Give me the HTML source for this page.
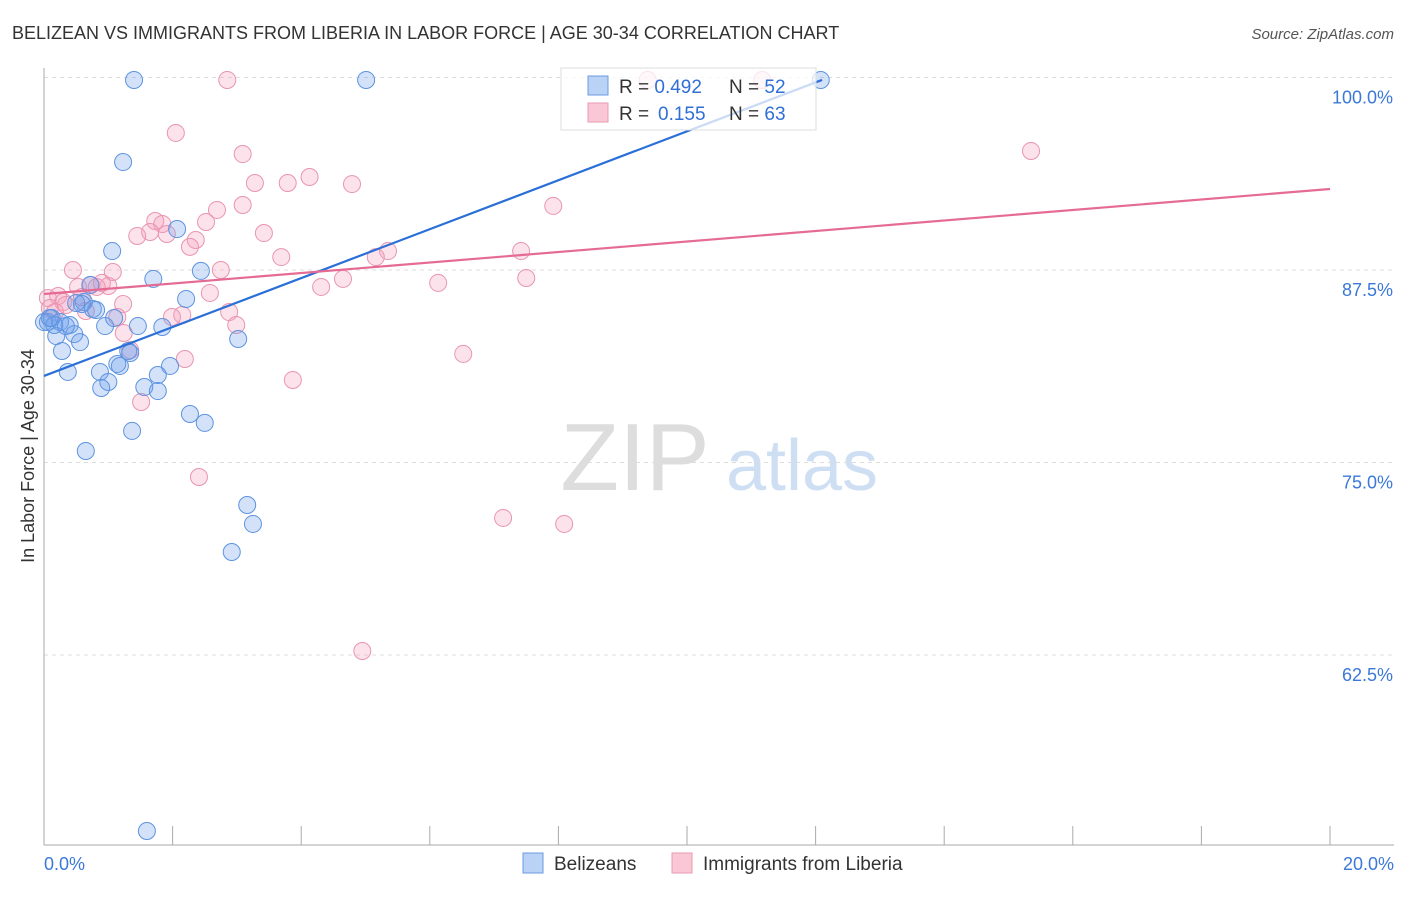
<!DOCTYPE html>
<html><head><meta charset="utf-8"><style>
body{margin:0;background:#fff;font-family:"Liberation Sans",sans-serif;}
svg text{font-family:"Liberation Sans",sans-serif;}
</style></head><body>
<svg id="chart" width="1406" height="892">
<text x="12" y="39" font-size="18" fill="#333">BELIZEAN VS IMMIGRANTS FROM LIBERIA IN LABOR FORCE | AGE 30-34 CORRELATION CHART</text>
<text x="1394" y="39" font-size="15" fill="#555" font-style="italic" text-anchor="end">Source: ZipAtlas.com</text>
<text x="635" y="490" font-size="96" fill="#ddd" text-anchor="middle" font-family="Liberation Serif,serif">ZIP</text>
<text x="802" y="490" font-size="72" fill="#cfdff3" text-anchor="middle">atlas</text>
<text transform="translate(34,456) rotate(-90)" font-size="18" fill="#333" text-anchor="middle">In Labor Force | Age 30-34</text>
<g id="grid"></g><g id="marks"></g>
<g>
<rect x="561" y="68" width="255" height="62" fill="#fff" fill-opacity="0.75" stroke="#ddd"/>
<rect x="588" y="76" width="20" height="19" fill="#b9d2f5" stroke="#6a9be0"/>
<rect x="588" y="103" width="20" height="19" fill="#f9c7d6" stroke="#e99ab2"/>
<text x="619" y="93" font-size="19" fill="#333">R = <tspan fill="#2f6fd6">0.492</tspan><tspan x="729">N = </tspan><tspan fill="#2f6fd6">52</tspan></text>
<text x="619" y="120" font-size="19" fill="#333">R = <tspan x="658" fill="#2f6fd6">0.155</tspan><tspan x="729">N = </tspan><tspan fill="#2f6fd6">63</tspan></text>
</g>
<g>
<rect x="523" y="853" width="20" height="20" fill="#b9d2f5" stroke="#6a9be0"/>
<text x="554" y="870" font-size="19" fill="#333">Belizeans</text>
<rect x="672" y="853" width="20" height="20" fill="#f9c7d6" stroke="#e99ab2"/>
<text x="703" y="870" font-size="19" fill="#333">Immigrants from Liberia</text>
</g>
</svg>
<script>
const yTicks=[100,87.5,75,62.5];
const yTickLabels=["100.0%","87.5%","75.0%","62.5%"];
const xTickVals=[0,2,4,6,8,10,12,14,16,18,20];
const xLabels=["0.0%","20.0%"];
const blueX=[1.40,5.01,12.08,1.23,1.06,2.07,1.70,2.44,0.72,0.62,0.76,2.21,0.06,0.12,0.25,0.40,0.19,0.47,0.56,0.28,0.95,1.09,1.46,1.84,3.02,1.31,1.14,1.18,1.96,0.37,0.87,1.00,0.89,1.56,1.77,1.77,2.27,2.50,1.37,0.65,3.16,3.25,2.92,1.60,0.00,0.16,0.81,0.59,1.34,0.34,0.09,0.50];
const blueY=[99.84,99.84,99.84,94.51,88.73,90.16,86.92,87.44,86.53,85.42,84.97,85.62,84.12,84.38,84.12,83.93,83.21,83.34,82.82,82.24,83.86,84.38,83.86,83.80,83.02,82.24,81.40,81.27,81.27,80.88,80.88,80.23,79.84,79.90,80.68,79.64,78.15,77.57,77.05,75.75,72.24,71.01,69.19,51.07,84.12,83.93,84.90,85.29,82.11,83.86,84.38,85.36];
const pinkX=[2.85,9.39,11.17,2.05,3.09,15.35,3.28,3.79,4.13,4.79,3.09,2.69,7.92,2.52,1.73,1.84,1.65,1.45,1.91,2.36,2.27,3.42,5.35,5.16,7.42,3.69,0.45,1.07,2.75,4.65,7.50,6.13,4.31,0.73,1.00,0.53,0.90,0.22,0.06,0.59,2.58,1.23,0.30,0.09,1.14,2.15,1.99,2.88,2.99,1.24,1.34,6.52,2.19,3.87,1.51,2.41,7.14,8.09,4.95,0.65,0.17,0.34,0.82];
const pinkY=[99.84,99.84,99.84,96.40,95.03,95.23,93.15,93.15,93.54,93.08,91.72,91.40,91.66,90.62,90.68,90.49,89.97,89.71,89.84,89.45,89.00,89.90,88.73,88.34,88.73,88.34,87.50,87.37,87.50,86.92,86.98,86.66,86.40,86.53,86.46,86.40,86.66,85.81,85.68,85.75,86.01,85.29,85.42,85.03,84.45,84.58,84.45,84.77,83.93,83.41,82.30,82.05,81.72,80.36,78.93,74.06,71.40,71.01,62.76,84.84,84.77,85.23,86.40];
const blueLine=[[0,80.62],[12.1,99.84]];
const pinkLine=[[0,85.94],[20,92.76]];
const NS="http://www.w3.org/2000/svg";
const sx=v=>44+v/20*1286;
const sy=v=>77.5+(100-v)*15.4;
function mk(t,a,p){const e=document.createElementNS(NS,t);for(const k in a)e.setAttribute(k,a[k]);p.appendChild(e);return e;}
const grid=document.getElementById('grid'),marks=document.getElementById('marks');
yTicks.forEach((v,i)=>{
 const l=mk('line',{x1:44,x2:1394,y1:sy(v),y2:sy(v),stroke:'#ddd','stroke-dasharray':'4,4'},grid);
 
 
 const t=mk('text',{x:1393,y:sy(v)+26,'font-size':18,fill:'#3b78d8','text-anchor':'end'},grid);
 t.textContent=yTickLabels[i];
 
 
});
const ax=mk('line',{x1:44,x2:44,y1:68,y2:845,stroke:'#aaa'},grid);


const bx=mk('line',{x1:44,x2:1394,y1:845,y2:845,stroke:'#aaa'},grid);


xTickVals.forEach(v=>{
 const l=mk('line',{x1:sx(v),x2:sx(v),y1:826,y2:845,stroke:'#aaa'},grid);
 
 
});
[[0,'start',44],[20,'end',1394]].forEach((d,i)=>{
 const t=mk('text',{x:d[2],y:870,'font-size':18,fill:'#3b78d8','text-anchor':d[1]},grid);
 t.textContent=xLabels[i];
 
 
});
function pts(X,Y,fill,stroke,name){X.forEach((x,i)=>{
 const c=mk('circle',{cx:sx(x),cy:sy(Y[i]),r:8.5,fill:fill,stroke:stroke,'stroke-width':1},marks);
 
 
});}
pts(pinkX,pinkY,'rgba(244,160,188,0.3)','#e995b0','liberia-point');
pts(blueX,blueY,'rgba(110,160,235,0.3)','#5d93e0','belizean-point');
const bl=mk('line',{x1:sx(blueLine[0][0]),y1:sy(blueLine[0][1]),x2:sx(blueLine[1][0]),y2:sy(blueLine[1][1]),stroke:'#2a6fd8','stroke-width':2.2},marks);


const pl=mk('line',{x1:sx(pinkLine[0][0]),y1:sy(pinkLine[0][1]),x2:sx(pinkLine[1][0]),y2:sy(pinkLine[1][1]),stroke:'#e56a94','stroke-width':2.2},marks);


</script>
</body></html>
